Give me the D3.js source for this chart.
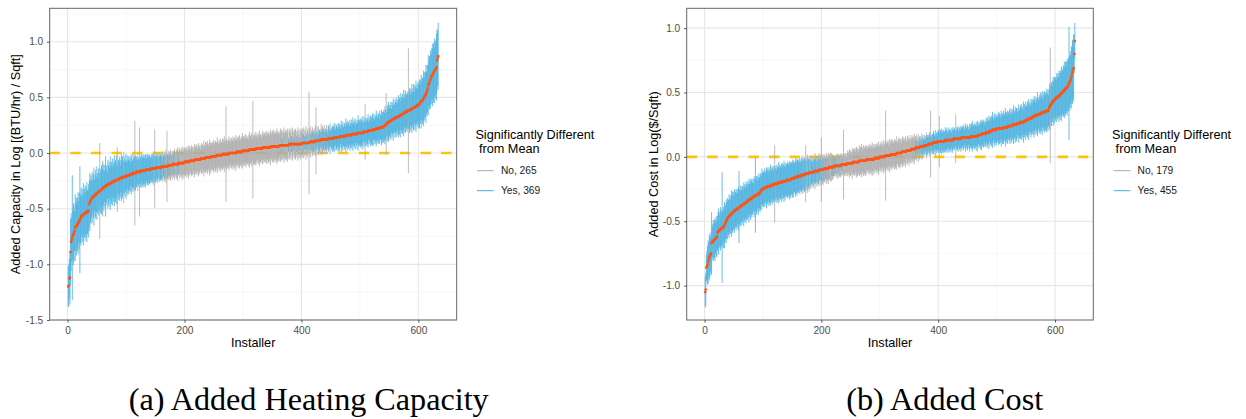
<!DOCTYPE html>
<html>
<head>
<meta charset="utf-8">
<script src="https://cdn.jsdelivr.net/npm/d3@7"></script>
<style>
  body { margin: 0; background: #fff; }
  svg { display: block; }
</style>
</head>
<body>
<div id="chart"></div>
<script>
// installer estimates and CI half-widths, in hundredths of a log unit, installers ranked 1..634
var capEst = [
  -120,-119,-113,-112,-89,-80,-78,-76,-74,-73,-72,-70,-67,-66,-66,-65,-64,-63,-62,-61,
  -60,-59,-57,-57,-56,-56,-55,-55,-54,-54,-54,-53,-53,-53,-52,-52,-46,-44,-43,-42,
  -41,-40,-40,-39,-39,-38,-38,-37,-37,-36,-36,-35,-35,-35,-34,-34,-33,-33,-32,-32,
  -31,-31,-30,-30,-30,-29,-29,-29,-28,-28,-28,-27,-27,-27,-27,-26,-26,-26,-26,-25,
  -25,-25,-25,-24,-24,-24,-24,-23,-23,-23,-23,-22,-22,-22,-22,-22,-21,-21,-21,-21,
  -21,-20,-20,-20,-20,-20,-19,-19,-19,-19,-19,-18,-18,-18,-18,-18,-18,-17,-17,-17,
  -17,-17,-17,-17,-16,-16,-16,-16,-16,-16,-16,-16,-16,-15,-15,-15,-15,-15,-15,-15,
  -15,-15,-14,-14,-14,-14,-14,-14,-14,-14,-14,-13,-13,-13,-13,-13,-13,-13,-13,-13,
  -13,-12,-12,-12,-12,-12,-12,-12,-12,-12,-12,-11,-11,-11,-11,-11,-11,-11,-11,-10,
  -10,-10,-10,-10,-10,-10,-10,-10,-10,-9,-9,-9,-9,-9,-9,-9,-9,-9,-9,-8,
  -8,-8,-8,-8,-8,-8,-8,-8,-7,-7,-7,-7,-7,-7,-7,-7,-7,-6,-6,-6,
  -6,-6,-6,-6,-6,-6,-6,-5,-5,-5,-5,-5,-5,-5,-5,-4,-4,-4,-4,-4,
  -4,-4,-4,-4,-4,-3,-3,-3,-3,-3,-3,-3,-3,-3,-2,-2,-2,-2,-2,-2,
  -2,-2,-2,-2,-1,-1,-1,-1,-1,-1,-1,-1,-1,-1,-1,0,0,0,0,0,
  0,0,0,0,0,0,0,0,1,1,1,1,1,1,1,1,1,1,2,2,
  2,2,2,2,2,2,2,2,2,2,3,3,3,3,3,3,3,3,3,3,
  3,4,4,4,4,4,4,4,4,4,4,4,4,5,5,5,5,5,5,5,
  5,5,5,5,5,5,5,6,6,6,6,6,6,6,6,6,6,6,6,6,
  6,6,7,7,7,7,7,7,7,7,7,7,7,7,7,7,7,7,8,8,
  8,8,8,8,8,8,8,8,8,8,8,8,8,8,8,8,8,8,8,8,
  9,9,9,9,9,9,9,9,9,9,9,9,9,10,10,10,10,10,10,10,
  10,10,10,11,11,11,11,11,11,11,11,11,12,12,12,12,12,12,12,12,
  12,12,12,12,12,13,13,13,13,13,13,13,13,13,13,14,14,14,14,14,
  14,14,14,14,14,15,15,15,15,15,15,15,15,15,15,16,16,16,16,16,
  16,16,16,16,16,17,17,17,17,17,17,17,17,17,17,18,18,18,18,18,
  18,18,18,18,18,19,19,19,19,19,19,19,19,20,20,20,20,20,20,20,
  20,21,21,21,21,21,21,22,22,22,22,22,22,23,23,23,23,23,23,24,
  24,24,25,25,26,26,27,27,28,28,28,29,29,29,30,30,30,31,31,31,
  32,32,32,32,33,33,33,33,34,34,34,35,35,35,36,36,36,37,37,37,
  37,38,38,38,38,39,39,39,40,40,40,41,41,41,42,42,42,43,43,43,
  44,44,45,46,46,47,47,48,49,50,51,52,53,54,56,58,61,62,63,65,
  66,68,69,70,71,72,73,74,75,76,77,83,85,87
];
var capHw = [
  18,19,18,24,30,26,20,56,22,28,25,18,30,22,26,20,24,28,19,25,
  48,22,26,18,24,20,28,17,22,25,19,23,27,20,18,24,21,26,19,22,
  17,23,15,20,26,14,19,22,16,24,18,13,21,17,43,20,15,22,18,25,
  16,21,14,19,27,15,18,12,22,17,20,14,24,16,19,13,21,15,18,23,
  14,19,16,22,29,13,18,15,20,17,12,21,16,19,14,23,15,18,13,20,
  15,12,18,14,17,13,16,11,18,14,12,17,13,15,47,16,12,14,11,17,
  13,11,40,14,12,15,10,13,15,12,14,11,15,13,10,14,12,14,11,13,
  12,10,13,11,13,9,15,12,35,11,13,10,12,14,9,11,13,10,12,11,
  10,12,14,9,11,13,10,15,12,32,11,9,13,10,12,14,11,9,13,10,
  12,9,14,11,10,13,12,15,9,11,14,12,10,13,11,15,12,10,14,12,
  11,13,10,14,12,9,15,11,13,10,12,14,11,13,9,12,15,10,13,11,
  14,10,12,15,11,13,9,12,14,10,13,11,16,12,10,14,11,13,15,12,
  10,13,16,11,14,12,9,13,11,15,12,10,14,13,11,16,12,10,14,11,
  13,15,11,12,14,10,13,16,11,12,43,14,10,13,12,15,11,13,10,14,
  12,11,15,13,10,14,12,16,11,13,12,14,10,15,13,11,12,14,16,11,
  13,10,14,12,15,11,13,12,10,14,16,11,13,12,15,10,44,13,11,14,
  12,15,11,13,10,14,12,16,11,13,12,10,14,15,11,13,12,14,10,13,
  15,11,12,14,13,10,16,12,11,14,13,15,10,12,14,11,13,16,12,14,
  11,13,10,15,12,14,6,13,11,16,12,10,14,13,11,15,12,6,14,12,
  10,14,7,12,15,11,6,13,10,14,12,7,11,15,9,13,6,12,14,10,
  11,13,8,14,6,12,10,15,7,11,13,9,46,12,7,14,10,8,13,11,
  9,12,7,14,30,8,12,6,13,10,9,11,7,14,8,12,10,9,13,7,
  10,8,13,9,6,11,12,8,14,7,10,9,12,8,11,13,9,7,12,10,
  11,8,13,9,12,10,7,14,11,9,13,8,10,12,9,15,11,8,13,10,
  12,9,14,11,8,13,10,15,9,12,11,14,8,10,13,9,16,11,12,10,
  13,9,12,15,11,8,14,10,25,12,9,13,11,15,8,12,10,14,9,13,
  12,15,10,14,9,13,11,16,12,10,14,13,9,15,11,12,16,10,14,13,
  15,12,17,14,28,11,16,13,18,12,15,14,17,11,16,13,19,14,12,17,
  14,18,13,16,12,19,15,17,13,20,16,14,18,15,21,13,17,19,14,16,
  18,15,56,17,20,14,19,16,22,15,18,21,14,20,17,23,16,19,15,21,
  18,22,16,20,24,17,21,19,25,18,22,20,26,19,23,21,27,20,24,22,
  26,21,25,28,23,27,22,29,26,24,30,28,25,30
];
var costEst = [
  -105,-103,-86,-85,-84,-82,-80,-78,-77,-76,-75,-67,-66,-66,-65,-65,-64,-64,-63,-63,
  -62,-59,-58,-58,-57,-57,-56,-56,-56,-55,-55,-55,-54,-53,-52,-51,-50,-49,-48,-47,
  -47,-46,-46,-45,-45,-44,-44,-43,-43,-42,-42,-42,-41,-41,-41,-40,-40,-40,-39,-39,
  -39,-38,-38,-38,-37,-37,-37,-36,-36,-36,-35,-35,-35,-34,-34,-34,-33,-33,-33,-32,
  -32,-32,-31,-31,-31,-30,-30,-30,-30,-29,-29,-29,-29,-28,-28,-27,-26,-25,-25,-25,
  -25,-24,-24,-24,-24,-24,-23,-23,-23,-23,-23,-23,-22,-22,-22,-22,-22,-22,-21,-21,
  -21,-21,-21,-21,-21,-20,-20,-20,-20,-20,-20,-20,-19,-19,-19,-19,-19,-19,-19,-18,
  -18,-18,-18,-18,-18,-18,-18,-17,-17,-17,-17,-17,-16,-16,-16,-16,-16,-16,-15,-15,
  -15,-15,-15,-15,-15,-14,-14,-14,-14,-14,-14,-14,-13,-13,-13,-13,-13,-13,-13,-12,
  -12,-12,-12,-12,-12,-12,-12,-11,-11,-11,-11,-11,-11,-11,-11,-10,-10,-10,-10,-10,
  -10,-10,-10,-10,-9,-9,-9,-9,-9,-9,-9,-9,-8,-8,-8,-8,-8,-8,-8,-8,
  -8,-7,-7,-7,-7,-7,-7,-7,-7,-7,-7,-7,-7,-6,-6,-6,-6,-6,-6,-6,
  -6,-6,-6,-5,-5,-5,-5,-5,-5,-5,-5,-5,-5,-4,-4,-4,-4,-4,-4,-4,
  -4,-4,-4,-4,-3,-3,-3,-3,-3,-3,-3,-3,-3,-3,-3,-3,-2,-2,-2,-2,
  -2,-2,-2,-2,-2,-2,-2,-2,-2,-2,-1,-1,-1,-1,-1,-1,-1,-1,-1,0,
  0,0,0,0,0,0,0,0,0,1,1,1,1,1,1,1,1,1,2,2,
  2,2,2,2,2,2,2,2,3,3,3,3,3,3,3,3,3,4,4,4,
  4,4,4,4,4,5,5,5,5,5,5,5,5,6,6,6,6,6,6,6,
  7,7,7,7,7,7,7,7,8,8,8,8,8,8,8,9,9,9,9,9,
  9,9,10,10,10,10,10,10,10,10,11,11,11,11,11,11,11,11,12,12,
  12,12,12,12,12,12,12,12,12,12,12,13,13,13,13,13,13,13,13,13,
  13,13,13,13,13,14,14,14,14,14,14,14,14,14,14,14,14,14,14,15,
  15,15,15,15,15,15,15,15,15,15,15,15,15,15,15,16,16,16,16,16,
  16,16,16,16,16,16,16,17,17,17,17,17,17,17,18,18,18,18,18,18,
  18,19,19,19,19,19,19,20,20,20,20,20,21,21,21,21,21,21,21,21,
  22,22,22,22,22,22,22,22,22,22,22,23,23,23,23,23,23,23,23,24,
  24,24,24,24,24,24,24,25,25,25,25,25,25,25,26,26,26,26,26,26,
  27,27,27,27,27,27,27,28,28,28,28,29,29,29,29,30,30,30,30,30,
  31,31,31,31,32,32,32,32,32,33,33,33,33,33,34,34,34,34,34,35,
  35,35,35,35,35,36,36,36,36,38,39,40,41,41,42,43,43,44,44,45,
  45,46,46,46,47,47,47,48,48,49,49,50,50,51,51,52,52,53,53,54,
  54,55,56,57,58,59,60,62,64,66,68,69,80,90
];
var costHw = [
  12,13,10,12,15,17,14,18,16,13,17,24,14,12,16,13,15,17,12,14,
  16,13,15,18,14,12,17,15,13,43,14,16,12,18,15,13,17,14,16,12,
  14,17,13,15,12,18,14,16,13,15,17,12,14,16,13,15,12,17,28,14,
  13,16,12,15,14,11,17,13,15,12,16,14,12,15,13,17,12,14,16,13,
  15,12,14,11,16,13,29,12,15,14,11,16,13,12,15,14,11,16,13,12,
  14,12,15,11,13,16,12,14,11,15,13,12,16,14,11,13,15,12,14,30,
  12,14,11,15,13,12,16,14,11,13,12,15,14,11,13,16,12,14,11,13,
  12,14,11,13,15,12,14,11,13,12,15,14,12,11,13,15,12,14,13,11,
  13,11,14,12,10,13,15,12,11,14,13,12,22,10,13,15,12,11,14,12,
  10,13,9,11,8,12,10,9,14,10,8,12,9,11,10,13,8,9,12,25,
  8,11,12,9,10,11,8,9,12,10,8,12,9,10,9,11,11,7,10,9,
  7,8,8,6,9,7,8,10,6,9,8,7,9,9,5,8,8,27,7,9,
  7,9,6,8,10,7,9,11,8,10,7,9,12,8,10,9,11,8,10,12,
  9,11,8,10,12,9,11,10,13,8,10,12,9,11,10,12,9,11,8,10,
  11,9,12,10,8,11,13,9,10,12,8,11,9,10,12,9,11,13,10,8,
  10,12,9,11,8,13,10,9,12,35,11,9,10,12,8,11,13,9,10,12,
  9,11,10,8,12,9,11,10,13,9,8,11,10,12,9,11,8,10,12,9,
  11,8,10,12,9,7,11,10,8,12,9,6,10,8,11,9,7,10,12,8,
  9,6,10,8,5,11,7,9,6,8,5,10,7,9,6,4,8,5,7,10,
  6,8,7,5,9,6,26,7,5,8,6,9,7,5,10,6,8,5,7,9,
  8,20,7,9,6,10,8,7,9,6,8,10,7,9,8,6,10,7,9,8,
  7,9,6,10,8,7,9,8,6,19,7,9,8,10,6,8,9,7,10,8,
  9,7,10,8,6,9,11,7,8,10,9,6,8,11,7,9,10,8,12,9,
  8,10,7,9,11,8,12,9,7,10,8,11,9,12,8,10,9,11,7,10,
  9,11,8,12,10,9,13,8,11,10,12,9,14,10,8,11,13,9,12,10,
  11,9,13,10,12,8,11,14,9,12,10,13,9,11,15,10,12,9,13,11,
  10,12,14,9,11,13,10,12,15,9,11,14,10,13,12,9,11,15,10,12,
  13,11,14,10,12,16,9,13,11,15,12,10,14,12,16,11,13,10,15,12,
  14,11,13,16,12,15,10,14,12,17,13,11,15,13,16,12,14,17,11,15,
  13,16,12,15,14,17,13,16,12,15,18,45,14,17,13,16,19,14,18,15,
  17,14,19,16,18,15,20,17,19,16,21,18,17,20,19,22,18,21,17,20,
  22,19,21,44,20,23,19,24,21,25,22,26,15,14
];

var xTicks = [0, 200, 400, 600];
var xMinor = [100, 300, 500];
var capYTicks = [-1.5, -1.0, -0.5, 0.0, 0.5, 1.0];
var capYMinor = [-1.25, -0.75, -0.25, 0.25, 0.75, 1.25];
var costYTicks = [-1.0, -0.5, 0.0, 0.5, 1.0];
var costYMinor = [-1.25, -0.75, -0.25, 0.25, 0.75];
var legendTitle = ["Significantly Different", " from Mean"];
var capLegend = ["No, 265", "Yes, 369"];
var costLegend = ["No, 179", "Yes, 455"];

[capEst, capHw, costEst, costHw].forEach(function(a) {
  if (a.length !== 634) throw new Error("array length " + a.length);
});

var W = 1246, H = 419;
var PT = 8.3, PB = 320;
var sans = "'Liberation Sans', Arial, Helvetica, sans-serif";
var colNo = "#ABABAB", colYes = "#45AEDD", colPt = "#FF5417", colZero = "#FFC20E";

var svg = d3.select("#chart").append("svg")
    .attr("width", W)
    .attr("height", H)
    .style("font-family", sans);

function panel(cfg) {
  var n = cfg.est.length;
  var pad = 0.05 * (n - 1);
  var x = d3.scaleLinear().domain([1 - pad, n + pad]).range([cfg.x0, cfg.x1]);
  var y = d3.scaleLinear().domain(cfg.yDomain).range([PB, PT]);
  var g = svg.append("g");

  var rows = cfg.est.map(function(e, i) {
    var h = cfg.hw[i];
    return {n: i + 1, est: e / 100, lo: (e - h) / 100, hi: (e + h) / 100,
            sig: (e + h < 0) || (e - h > 0)};
  });

  // grid
  g.selectAll(".ymin").data(cfg.yMinor).enter().append("line")
      .attr("x1", cfg.x0).attr("x2", cfg.x1)
      .attr("y1", function(d) { return y(d); }).attr("y2", function(d) { return y(d); })
      .attr("stroke", "#F2F2F2").attr("stroke-width", 0.6);
  g.selectAll(".xmin").data(xMinor).enter().append("line")
      .attr("y1", PT).attr("y2", PB)
      .attr("x1", function(d) { return x(d); }).attr("x2", function(d) { return x(d); })
      .attr("stroke", "#F2F2F2").attr("stroke-width", 0.6);
  g.selectAll(".ymaj").data(cfg.yTicks).enter().append("line")
      .attr("x1", cfg.x0).attr("x2", cfg.x1)
      .attr("y1", function(d) { return y(d); }).attr("y2", function(d) { return y(d); })
      .attr("stroke", "#E6E6E6").attr("stroke-width", 1.1);
  g.selectAll(".xmaj").data(xTicks).enter().append("line")
      .attr("y1", PT).attr("y2", PB)
      .attr("x1", function(d) { return x(d); }).attr("x2", function(d) { return x(d); })
      .attr("stroke", "#E6E6E6").attr("stroke-width", 1.1);

  // mean reference line
  g.append("line")
      .attr("x1", cfg.x0).attr("x2", cfg.x1)
      .attr("y1", y(0)).attr("y2", y(0))
      .attr("stroke", colZero).attr("stroke-width", 2.6)
      .attr("stroke-dasharray", "10.3,10.3");

  // error bars: not significant first, then significant
  [false, true].forEach(function(s) {
    g.append("g").selectAll("line")
        .data(rows.filter(function(d) { return d.sig === s; }))
        .enter().append("line")
        .attr("x1", function(d) { return x(d.n); })
        .attr("x2", function(d) { return x(d.n); })
        .attr("y1", function(d) { return y(d.lo); })
        .attr("y2", function(d) { return y(d.hi); })
        .attr("stroke", s ? colYes : colNo)
        .attr("stroke-width", 0.8);
  });

  g.append("g").selectAll("circle")
      .data(rows)
      .enter().append("circle")
      .attr("cx", function(d) { return x(d.n); })
      .attr("cy", function(d) { return y(d.est); })
      .attr("r", 1.35)
      .attr("fill", colPt);

  g.append("rect")
      .attr("x", cfg.x0).attr("y", PT)
      .attr("width", cfg.x1 - cfg.x0).attr("height", PB - PT)
      .attr("fill", "none").attr("stroke", "#666").attr("stroke-width", 1);

  // axes
  var xa = g.append("g")
      .attr("transform", "translate(0," + PB + ")")
      .call(d3.axisBottom(x).tickValues(xTicks).tickSize(2.7).tickPadding(3.8)
        .tickFormat(d3.format("d")));
  var ya = g.append("g")
      .attr("transform", "translate(" + cfg.x0 + ",0)")
      .call(d3.axisLeft(y).tickValues(cfg.yTicks).tickSize(2.7).tickPadding(3.8)
        .tickFormat(function(d) { return d.toFixed(1); }));
  [xa, ya].forEach(function(a) {
    a.attr("font-family", sans).attr("font-size", 10.1);
    a.select(".domain").remove();
    a.selectAll(".tick line").attr("stroke", "#333").attr("stroke-width", 0.8);
    a.selectAll(".tick text").attr("fill", "#4D4D4D");
  });

  g.append("text")
      .attr("x", (cfg.x0 + cfg.x1) / 2).attr("y", 346.7)
      .attr("text-anchor", "middle")
      .attr("font-size", 12.7)
      .attr("fill", "#000")
      .text("Installer");

  g.append("text")
      .attr("transform", "translate(" + cfg.yTitleX + "," + ((PT + PB) / 2) + ") rotate(-90)")
      .attr("text-anchor", "middle")
      .attr("font-size", 12.7)
      .attr("fill", "#000")
      .text(cfg.yTitle);

  // legend
  var lg = g.append("g").attr("transform", "translate(" + cfg.legX + ",0)");
  lg.selectAll(".lt").data(legendTitle).enter().append("text")
      .attr("x", 0)
      .attr("y", function(d, i) { return 139.3 + i * 13.4; })
      .attr("xml:space", "preserve")
      .attr("font-size", 12.7)
      .attr("fill", "#000")
      .text(function(d) { return d; });
  var items = lg.selectAll(".li").data(cfg.legend).enter().append("g")
      .attr("transform", function(d, i) { return "translate(0," + (170.7 + i * 20) + ")"; });
  items.append("line")
      .attr("x1", 1.6).attr("x2", 18.3)
      .attr("stroke", function(d, i) { return i ? colYes : colNo; })
      .attr("stroke-width", 1);
  items.append("text")
      .attr("x", 25.5).attr("dy", "0.35em")
      .attr("font-size", 10.2)
      .attr("fill", "#1A1A1A")
      .text(function(d) { return d; });

  svg.append("text")
      .attr("x", cfg.capX).attr("y", 410)
      .attr("text-anchor", "middle")
      .attr("font-family", "'Liberation Serif', 'Times New Roman', serif")
      .attr("font-size", 31)
      .attr("textLength", cfg.capW)
      .attr("lengthAdjust", "spacingAndGlyphs")
      .attr("fill", "#000")
      .text(cfg.caption);
}

panel({
  est: capEst, hw: capHw,
  x0: 49.7, x1: 456.7,
  yDomain: [-1.50, 1.30],
  yTicks: capYTicks, yMinor: capYMinor,
  yTitle: "Added Capacity in Log [(BTU/hr) / Sqft]", yTitleX: 20,
  legX: 475.4, legend: capLegend,
  caption: "(a) Added Heating Capacity", capX: 308.7, capW: 360
});

panel({
  est: costEst, hw: costHw,
  x0: 686.7, x1: 1093.3,
  yDomain: [-1.267, 1.154],
  yTicks: costYTicks, yMinor: costYMinor,
  yTitle: "Added Cost in Log($/Sqft)", yTitleX: 658,
  legX: 1112.1, legend: costLegend,
  caption: "(b) Added Cost", capX: 944.7, capW: 197
});
</script>
</body>
</html>
